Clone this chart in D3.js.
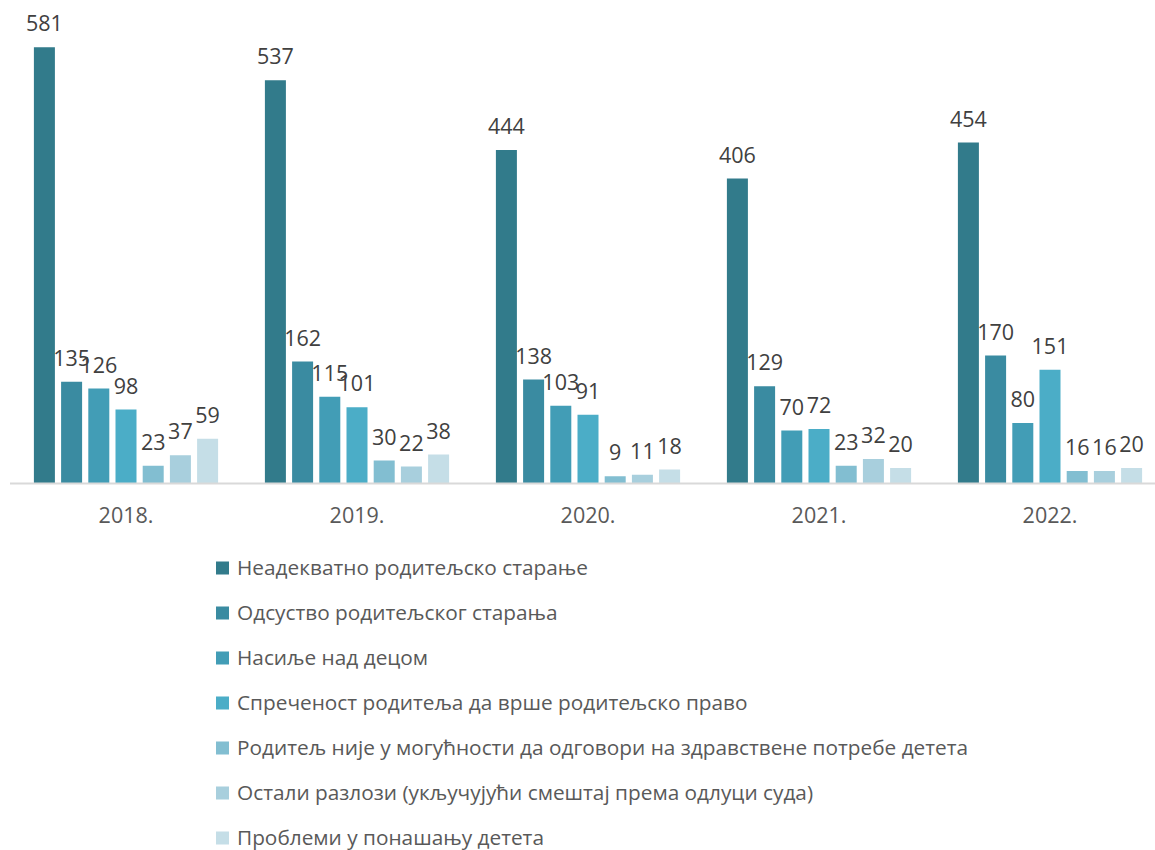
<!DOCTYPE html>
<html><head><meta charset="utf-8">
<script src="https://cdn.jsdelivr.net/npm/d3@7"></script>
<style>body{margin:0;background:#fff;} svg{display:block;}</style>
</head><body>
<script>
const years = ["2018.", "2019.", "2020.", "2021.", "2022."];
const seriesNames = [
  "Неадекватно родитељско старање",
  "Одсуство родитељског старања",
  "Насиље над децом",
  "Спреченост родитеља да врше родитељско право",
  "Родитељ није у могућности да одговори на здравствене потребе детета",
  "Остали разлози (укључујући смештај према одлуци суда)",
  "Проблеми у понашању детета"
];
const values = [
  [581, 135, 126, 98, 23, 37, 59],
  [537, 162, 115, 101, 30, 22, 38],
  [444, 138, 103, 91, 9, 11, 18],
  [406, 129, 70, 72, 23, 32, 20],
  [454, 170, 80, 151, 16, 16, 20]
];
const colors = ["#327b8b", "#3a8ba1", "#429db6", "#4badc7", "#82bed1", "#a8cfdd", "#c5dee7"];

const W = 1155, H = 850;
const svg = d3.select("body").append("svg").attr("width", W).attr("height", H);
const font = "'Open Sans', 'Noto Sans', sans-serif";

const baseY = 483;
const x0 = d3.scaleBand().domain(years).range([10.5, 1165.5]).padding(0);
const x1 = d3.scaleBand().domain(d3.range(seriesNames.length))
  .range([23.4, x0.bandwidth() - 23.4]).paddingInner(0.228).paddingOuter(0);
const y = d3.scaleLinear().domain([0, 600]).range([baseY, baseY - 450]);

const g = svg.selectAll("g.year").data(years).enter().append("g")
  .attr("class", "year").attr("transform", d => `translate(${x0(d)},0)`);

g.each(function(yr, yi) {
  const sel = d3.select(this);
  const data = values[yi].map((v, i) => ({v, i}));
  sel.selectAll("rect").data(data).enter().append("rect")
    .attr("x", d => x1(d.i)).attr("width", x1.bandwidth())
    .attr("y", d => y(d.v)).attr("height", d => baseY - y(d.v))
    .attr("fill", d => colors[d.i]);
  sel.selectAll("text.lbl").data(data).enter().append("text").attr("class", "lbl")
    .attr("x", d => x1(d.i) + x1.bandwidth() / 2)
    .attr("y", d => y(d.v) - 16)
    .attr("text-anchor", "middle")
    .attr("font-family", font).attr("font-size", 21.5).attr("fill", "#404040")
    .text(d => d.v);
});

// axis
const xAxis = d3.axisBottom(x0).tickSize(0).tickPadding(0);
const ax = svg.append("g").attr("transform", `translate(0,${baseY})`).call(xAxis);
ax.select(".domain").remove();
ax.append("line").attr("x1", 10).attr("x2", W).attr("y1", 0.5).attr("y2", 0.5)
  .attr("stroke", "#d9d9d9").attr("stroke-width", 2);
ax.selectAll(".tick text").attr("font-family", font).attr("font-size", 21.5)
  .attr("fill", "#595959").attr("dy", null).attr("y", 40);

// legend
const leg = svg.append("g");
seriesNames.forEach((name, i) => {
  const cy = 568 + i * 45;
  leg.append("rect").attr("x", 216).attr("y", cy - 6.5).attr("width", 13).attr("height", 13)
    .attr("fill", colors[i]);
  leg.append("text").attr("x", 237).attr("y", cy + 6.5).attr("font-family", font)
    .attr("font-size", 20.8).attr("fill", "#595959").text(name);
});
</script>
</body></html>
